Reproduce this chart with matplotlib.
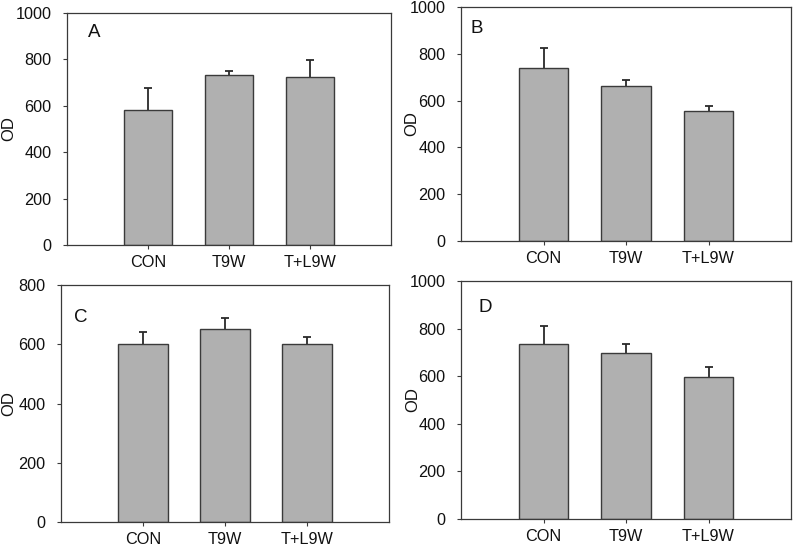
"""four panel OD bar chart
"""
import matplotlib
matplotlib.use("Agg")
import matplotlib.pyplot as plt

plt.rcParams['font.family'] = ['Liberation Sans', 'DejaVu Sans']

groups = ['CON', 'T9W', 'T+L9W']

od_a = [582, 734, 724]
err_a = [93, 16, 73]
od_b = [741, 664, 556]
err_b = [85, 24, 20]
od_c = [600, 652, 600]
err_c = [43, 36, 25]
od_d = [736, 698, 596]
err_d = [77, 37, 43]

panel_letters = ['A', 'B', 'C', 'D']
y_tops = [1000, 1000, 800, 1000]

# axes boxes in pixels: left, right, top, bottom
boxes = [(67, 391, 13, 245), (461, 791, 7, 241),
         (61, 389, 285, 522), (461, 791, 281, 519)]
# panel letter position (left, baseline) in pixels
letter_pos = [(88, 37), (470, 33), (74, 321.5), (479, 311.5)]
# OD label centre x in pixels
ylab_x = [9, 412, 9, 413]

W, H = 797, 546
fig = plt.figure(figsize=(W / 100, H / 100), dpi=100)

edge = '#3a3a3a'
txt = '#111111'
data = [(od_a, err_a), (od_b, err_b), (od_c, err_c), (od_d, err_d)]

for i, (vals, errs) in enumerate(data):
    l, r, t, b = boxes[i]
    ax = fig.add_axes([l / W, 1 - b / H, (r - l) / W, (b - t) / H])
    x = [1, 2, 3]
    ax.bar(x, vals, width=0.6, color='#b0b0b0', edgecolor=edge,
           linewidth=1.0, zorder=2)
    eb = ax.errorbar(x, vals, yerr=[[0] * 3, errs], fmt='none',
                     ecolor='#2a2a2a', elinewidth=1.3, capsize=2.7,
                     capthick=1.3, zorder=1)
    # only the upper cap is shown
    eb[1][0].set_visible(False)
    ax.set_xlim(0, 4)
    ax.set_ylim(0, y_tops[i])
    ax.set_yticks(range(0, y_tops[i] + 1, 200))
    ax.set_xticks(x)
    ax.set_xticklabels(groups)
    ax.tick_params(direction='out', length=3, width=0.8, color=edge,
                   labelsize=11.7, labelcolor=txt)
    ax.tick_params(axis='y', pad=8)
    ax.tick_params(axis='x', pad=4.5)
    for s in ax.spines.values():
        s.set_color(edge)
        s.set_linewidth(0.9)
    fig.text(ylab_x[i] / W, 1 - (t + b) / 2 / H, 'OD', rotation=90,
             ha='center', va='center', fontsize=12, color=txt)
    lx, ly = letter_pos[i]
    fig.text(lx / W, 1 - ly / H, panel_letters[i], fontsize=13.5,
             ha='left', va='baseline', color=txt)

plt.savefig('out.png', dpi=100)
